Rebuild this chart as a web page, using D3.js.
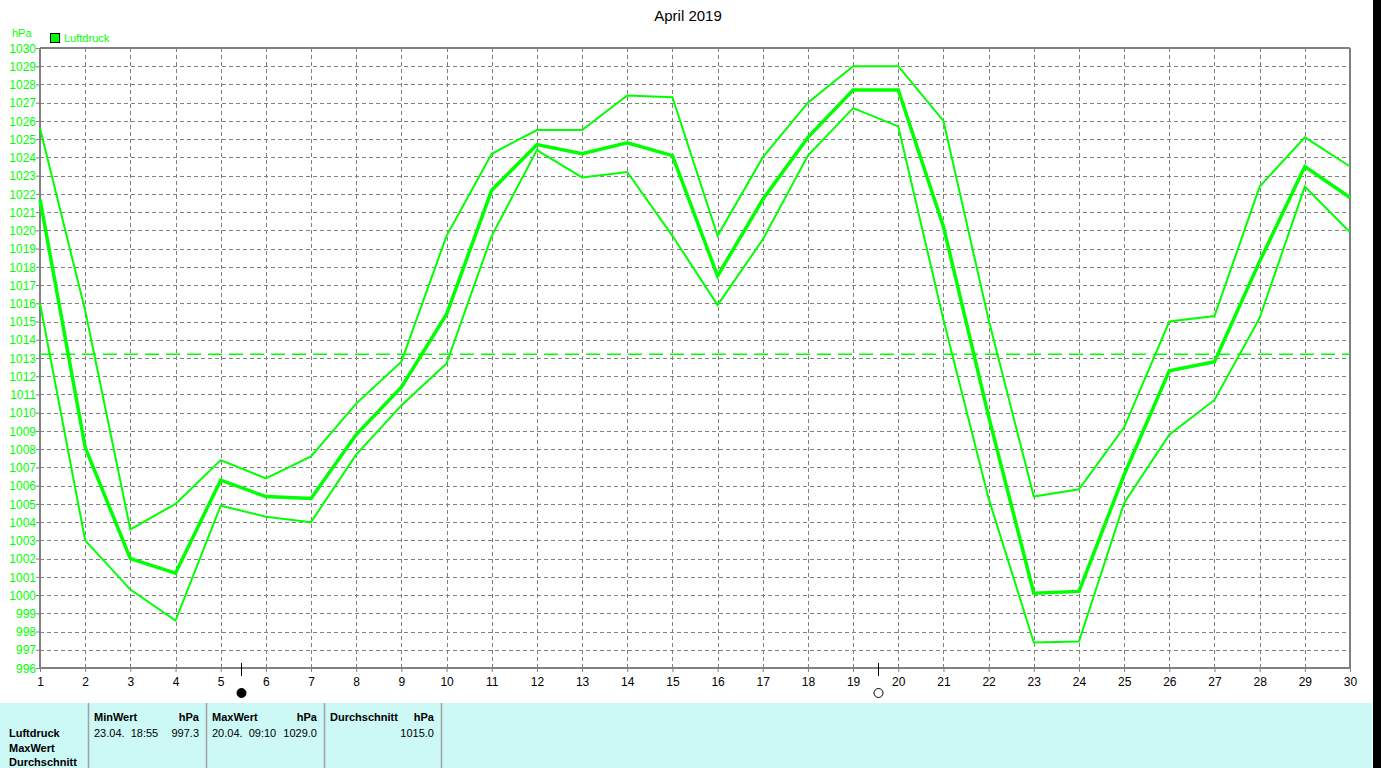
<!DOCTYPE html>
<html><head><meta charset="utf-8">
<script src="https://cdn.jsdelivr.net/npm/d3@7"></script>
<style>
html,body{margin:0;padding:0;background:#fff;overflow:hidden;}
text{font-family:"Liberation Sans",Arial,sans-serif;}
</style></head>
<body>
<svg id="c" width="1381" height="768"></svg>
<script>
const days = d3.range(1, 31);
const maxVals = [1025.6,1015.6,1003.6,1005.0,1007.4,1006.4,1007.6,1010.5,1012.8,1019.7,
                 1024.2,1025.5,1025.5,1027.4,1027.3,1019.7,1024.0,1027.0,1029.0,1029.0,
                 1026.0,1015.1,1005.4,1005.8,1009.2,1015.0,1015.3,1022.4,1025.1,1023.5];
const meanVals = [1021.7,1008.1,1002.0,1001.2,1006.3,1005.4,1005.3,1008.8,1011.4,1015.4,
                  1022.2,1024.7,1024.2,1024.8,1024.1,1017.5,1021.7,1025.1,1027.7,1027.7,
                  1020.2,1009.8,1000.1,1000.2,1006.6,1012.3,1012.8,1018.3,1023.5,1021.8];
const minVals = [1016.0,1003.0,1000.3,998.6,1004.9,1004.3,1004.0,1007.7,1010.4,1012.7,
                 1019.7,1024.4,1022.9,1023.2,1019.7,1015.9,1019.5,1024.1,1026.7,1025.7,
                 1015.1,1005.3,997.4,997.45,1005.05,1008.8,1010.7,1015.2,1022.4,1019.9];
const avgLine = 1013.2;
const yTicks = d3.range(996, 1031);
const moonPhases = [{day: 5.45, type: "full"}, {day: 19.55, type: "new"}];
const title = "April 2019";
const unit = "hPa";
const seriesName = "Luftdruck";
const tableCols = [
  {head: "MinWert", unit: "hPa", date: "23.04.  18:55", value: "997.3"},
  {head: "MaxWert", unit: "hPa", date: "20.04.  09:10", value: "1029.0"},
  {head: "Durchschnitt", unit: "hPa", date: "", value: "1015.0"}
];
const rowLabels = ["Luftdruck", "MaxWert", "Durchschnitt"];

const svg = d3.select("#c");
const L = 40, R = 1350, T = 48, B = 668;
const GREEN = "#00ff00", GREY = "#808080";
const x = d3.scaleLinear().domain([1, 30]).range([L, R]);
const y = d3.scaleLinear().domain([996, 1030]).range([B, T]);

// right black bar
svg.append("rect").attr("x", 1373).attr("y", 0).attr("width", 8).attr("height", 768).attr("fill", "#000");

// title
svg.append("text").attr("x", 688).attr("y", 21).attr("text-anchor", "middle")
  .attr("font-size", 15).text(title);

// grid
const g = svg.append("g");
g.selectAll(".hg").data(yTicks.slice(1, -1)).join("line")
  .attr("x1", L).attr("x2", R).attr("y1", d => Math.round(y(d)) + 0.5).attr("y2", d => Math.round(y(d)) + 0.5)
  .attr("stroke", GREY).attr("stroke-dasharray", "4,3");
g.selectAll(".vg").data(days.slice(1, -1)).join("line")
  .attr("y1", T).attr("y2", B).attr("x1", d => Math.round(x(d)) + 0.5).attr("x2", d => Math.round(x(d)) + 0.5)
  .attr("stroke", GREY).attr("stroke-dasharray", "4,3");

// y axis
const yAxis = d3.axisLeft(y).tickValues(yTicks).tickSize(4).tickFormat(d3.format("d"));
const ya = svg.append("g").attr("transform", `translate(${L},0)`).call(yAxis);
ya.select(".domain").remove();
ya.selectAll(".tick line").attr("stroke", GREY);
ya.selectAll(".tick text").attr("fill", GREEN).attr("font-size", 12).attr("x", -4).attr("dy", "0.35em");

// x axis
const xAxis = d3.axisBottom(x).tickValues(days).tickSize(4).tickFormat(d3.format("d"));
const xa = svg.append("g").attr("transform", `translate(0,${B})`).call(xAxis);
xa.select(".domain").remove();
xa.selectAll(".tick line").attr("stroke", GREY);
xa.selectAll(".tick text").attr("fill", "#000").attr("font-size", 12).attr("y", 9);

// frame
svg.append("line").attr("x1", L).attr("x2", R).attr("y1", T).attr("y2", T).attr("stroke", GREY).attr("stroke-width", 2);
svg.append("line").attr("x1", R).attr("x2", R).attr("y1", T).attr("y2", B).attr("stroke", GREY).attr("stroke-width", 2);
svg.append("line").attr("x1", L).attr("x2", R).attr("y1", B).attr("y2", B).attr("stroke", GREY).attr("stroke-width", 2);
svg.append("line").attr("x1", L).attr("x2", L).attr("y1", T).attr("y2", B + 1).attr("stroke", GREY).attr("stroke-width", 2);

// avg dashed line
svg.append("line").attr("x1", L).attr("x2", R).attr("y1", y(avgLine)).attr("y2", y(avgLine))
  .attr("stroke", GREEN).attr("stroke-width", 1.5).attr("stroke-dasharray", "14,7");

// lines
const line = d3.line().x((d, i) => x(days[i])).y(d => y(d));
[[maxVals, 2], [minVals, 2], [meanVals, 3.5]].forEach(([vals, w]) => {
  svg.append("path").datum(vals).attr("d", line).attr("fill", "none")
    .attr("stroke", GREEN).attr("stroke-width", w).attr("stroke-linejoin", "miter");
});

// moon phases
moonPhases.forEach(m => {
  const mx = Math.round(x(m.day)) + 0.5;
  svg.append("line").attr("x1", mx).attr("x2", mx).attr("y1", 663).attr("y2", 676).attr("stroke", "#000");
  svg.append("circle").attr("cx", mx).attr("cy", 693).attr("r", 4.5)
    .attr("fill", m.type === "full" ? "#000" : "#fff").attr("stroke", "#000").attr("stroke-width", 1);
});

// legend
svg.append("text").attr("x", 12).attr("y", 37).attr("fill", GREEN).attr("font-size", 11).text(unit);
svg.append("rect").attr("x", 50.5).attr("y", 33.5).attr("width", 9).attr("height", 9)
  .attr("fill", GREEN).attr("stroke", "#000");
svg.append("text").attr("x", 64).attr("y", 42).attr("fill", GREEN).attr("font-size", 11).text(seriesName);

// table
const tb = svg.append("g");
tb.append("rect").attr("x", 0).attr("y", 703).attr("width", 1372).attr("height", 65).attr("fill", "#ccf8f6");
const sepX = [88, 206, 324, 441];
sepX.forEach(sx => tb.append("line").attr("x1", sx + 0.5).attr("x2", sx + 0.5).attr("y1", 703).attr("y2", 768)
  .attr("stroke", "#a0a0a0").attr("stroke-width", 1.5));
const rowY = [737, 752, 766];
rowLabels.forEach((r, i) => tb.append("text").attr("x", 9).attr("y", rowY[i])
  .attr("font-size", 11).attr("font-weight", "bold").text(r));
tableCols.forEach((c, i) => {
  const x0 = sepX[i] + 6, x1 = sepX[i + 1] - 7;
  tb.append("text").attr("x", x0).attr("y", 721).attr("font-size", 11).attr("font-weight", "bold").text(c.head);
  tb.append("text").attr("x", x1).attr("y", 721).attr("font-size", 11).attr("font-weight", "bold")
    .attr("text-anchor", "end").text(c.unit);
  if (c.date) tb.append("text").attr("x", x0).attr("y", 737).attr("font-size", 11).attr("xml:space", "preserve").text(c.date);
  tb.append("text").attr("x", x1).attr("y", 737).attr("font-size", 11).attr("text-anchor", "end").text(c.value);
});
</script>
</body></html>
